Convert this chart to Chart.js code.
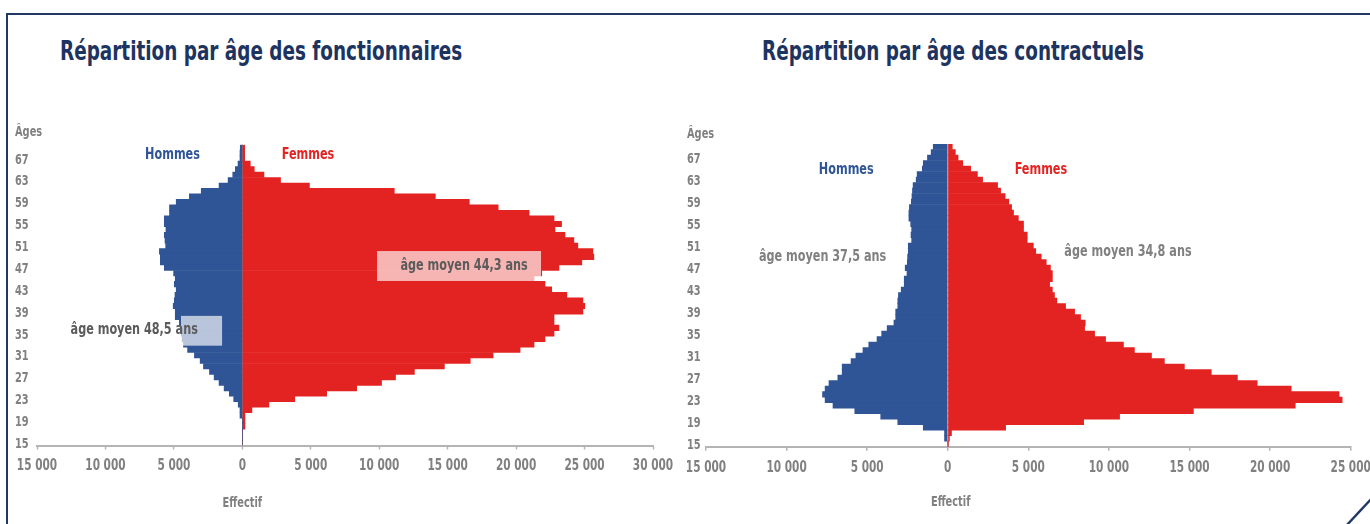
<!DOCTYPE html>
<html lang="fr">
<head>
<meta charset="utf-8">
<title>Répartition par âge</title>
<script src="https://cdn.jsdelivr.net/npm/chart.js@4.4.1/dist/chart.umd.min.js"></script>
<style>
  html, body { margin: 0; padding: 0; background: #fff; width: 1370px; height: 524px; overflow: hidden; }
  .frame { position: absolute; left: 6px; top: 13px; width: 1420px; height: 600px;
           border-top: 2.4px solid #1f3864; border-left: 2.4px solid #1f3864; }
  .title { position: absolute; top: 38px; font-weight: bold; font-size: 26px; line-height: 26px;
           font-family: "DejaVu Sans Condensed", "DejaVu Sans", sans-serif;
           color: #1d3461; white-space: nowrap; transform: scaleX(0.787); transform-origin: 0 0; }
  canvas { position: absolute; top: 0; }
  svg { position: absolute; left: 0; top: 0; }
</style>
</head>
<body>
<div class="frame"></div>
<svg width="1370" height="524"><line x1="1346" y1="526" x2="1373" y2="497" stroke="#1f3864" stroke-width="2.4"/></svg>
<div class="title" style="left:60px">Répartition par âge des fonctionnaires</div>
<div class="title" style="left:762px">Répartition par âge des contractuels</div>
<canvas id="fonctionnaires" width="690" height="524" style="left:0"></canvas>
<canvas id="contractuels" width="720" height="524" style="left:670px"></canvas>
<script>
const FONT = '"DejaVu Sans Condensed", "DejaVu Sans", sans-serif';
const NARROW = 0.78; // the original uses a condensed face, squeeze the text to match
const BLUE = '#2f5597';
const RED = '#e32322';
const GREY = '#808080';
const AXIS = '#b4b4b4';

// ages, from the top of the pyramid down
const ages = [69, 68, 67, 66, 65, 64, 63, 62, 61, 60,
              59, 58, 57, 56, 55, 54, 53, 52, 51, 50,
              49, 48, 47, 46, 45, 44, 43, 42, 41, 40,
              39, 38, 37, 36, 35, 34, 33, 32, 31, 30,
              29, 28, 27, 26, 25, 24, 23, 22, 21, 20,
              19, 18, 17, 16, 15];

// fonctionnaires
const fonctHommes = [150, 170, 170, 315, 510, 700, 1040, 1700, 3000, 3870,
                     4830, 5320, 5320, 5700, 5700, 5580, 5700, 5650, 5600, 6060,
                     5990, 5990, 5700, 5020, 4900, 4970, 4830, 4920, 4970, 5050,
                     4900, 4900, 4600, 4500, 4450, 4400, 4300, 4000, 3500, 3080,
                     2840, 2400, 2060, 1700, 1330, 950, 630, 300, 170, 170,
                     0, 0, 0, 0, 0];
const fonctFemmes = [170, 170, 170, 580, 870, 1580, 2790, 4900, 11100, 14100,
                     16580, 18690, 20950, 22770, 23320, 22840, 23570, 24220, 24510, 25610,
                     25680, 24800, 23130, 21870, 21310, 22110, 22600, 23710, 24880, 25020,
                     24880, 22770, 22770, 23130, 22770, 22110, 21310, 20290, 18320, 16650,
                     14760, 12570, 11190, 10170, 8350, 6160, 3830, 1940, 700, 190,
                     190, 190, 0, 0, 0];

// contractuels
const contrHommes = [900, 1030, 1260, 1520, 1580, 1900, 1960, 2150, 2190, 2220,
                     2260, 2380, 2410, 2410, 2300, 2240, 2280, 2240, 2450, 2450,
                     2490, 2510, 2640, 2530, 2700, 2700, 2890, 3060, 3100, 3100,
                     3230, 3230, 3340, 3760, 4100, 4390, 4900, 5260, 5700, 6000,
                     6550, 6550, 6820, 7370, 7610, 7770, 7610, 7120, 5770, 4160,
                     3100, 1520, 200, 200, 0];
const contrFemmes = [280, 470, 640, 930, 1420, 1840, 2160, 3090, 3280, 3560,
                     3790, 3960, 4080, 4380, 4700, 4700, 4930, 4930, 5310, 5460,
                     5800, 6110, 6370, 6490, 6490, 6320, 6490, 6620, 6770, 7310,
                     7870, 8240, 8530, 8490, 9110, 9790, 10900, 11580, 12640, 13440,
                     14680, 16350, 17970, 19200, 21310, 24280, 24470, 21560, 15240, 10660,
                     8430, 3590, 230, 100, 50];

const ageTicks = [15, 19, 23, 27, 31, 35, 39, 43, 47, 51, 55, 59, 63, 67];

Chart.defaults.font.family = FONT;

function fmt(v) {
    return Math.abs(v).toString().replace(/\B(?=(\d{3})+(?!\d))/g, ' ');
}

function squeezed(ctx, text, x, y, align, size, color) {
    ctx.save();
    ctx.font = 'bold ' + size + 'px ' + FONT;
    ctx.fillStyle = color;
    ctx.textAlign = align;
    ctx.textBaseline = 'middle';
    ctx.translate(x, y);
    ctx.scale(NARROW, 1);
    ctx.fillText(text, 0, 0);
    ctx.restore();
}

// tick labels, boxes and notes, placed in data units
const notesPlugin = {
    id: 'notes',
    afterDraw(chart, args, o) {
        const ctx = chart.ctx;
        const x = chart.scales.x, y = chart.scales.y;
        const yAt = age => y.getPixelForValue(ages[0] - age);
        const bottom = chart.chartArea.bottom;

        x.ticks.forEach(t => {
            squeezed(ctx, fmt(t.value), x.getPixelForValue(t.value), bottom + 21, 'center', 15, GREY);
        });
        ageTicks.forEach(a => {
            squeezed(ctx, String(a), y.left, yAt(a) + 1.5, 'left', 14, GREY);
        });

        (o.boxes || []).forEach(b => {
            const x1 = x.getPixelForValue(b.from), x2 = x.getPixelForValue(b.to);
            const y1 = yAt(b.top), y2 = yAt(b.bottom);
            ctx.fillStyle = 'rgba(255, 255, 255, 0.66)';
            ctx.fillRect(x1, y1, x2 - x1, y2 - y1);
        });
        (o.labels || []).forEach(l => {
            const px = l.x === null ? y.left : x.getPixelForValue(l.x);
            const py = l.below != null ? bottom + l.below : yAt(l.age);
            squeezed(ctx, l.text, px, py, l.align || 'center', l.size, l.color);
        });
    }
};

function pyramid(id, hommes, femmes, o) {
    return new Chart(document.getElementById(id), {
        type: 'bar',
        data: {
            labels: ages,
            datasets: [
                { label: 'Hommes', data: hommes.map(v => -v), backgroundColor: BLUE },
                { label: 'Femmes', data: femmes, backgroundColor: RED }
            ]
        },
        options: {
            indexAxis: 'y',
            responsive: false,
            animation: false,
            layout: { padding: o.padding },
            datasets: { bar: { barPercentage: 1, categoryPercentage: 1, borderWidth: 0 } },
            plugins: {
                legend: { display: false },
                tooltip: { enabled: false },
                notes: o.notes
            },
            scales: {
                x: {
                    stacked: true,
                    min: -15000,
                    max: o.xMax,
                    z: 1,
                    ticks: { stepSize: 5000, display: false },
                    grid: {
                        color: c => (c.tick && c.tick.value === 0) ? o.zeroColor : 'rgba(0,0,0,0)',
                        lineWidth: o.zeroWidth,
                        tickColor: AXIS,
                        tickLength: 4,
                        tickWidth: 1.5
                    },
                    border: { color: AXIS, width: 2 },
                    afterFit: s => { s.height = o.axisHeight; }
                },
                y: {
                    stacked: true,
                    grid: { display: false },
                    border: { display: false },
                    ticks: { display: false },
                    afterFit: s => { s.width = o.labelWidth; }
                }
            }
        },
        plugins: [notesPlugin]
    });
}

pyramid('fonctionnaires', fonctHommes, fonctFemmes, {
    xMax: 30000,
    padding: { left: 15, right: 37, top: 144.7, bottom: 0 },
    labelWidth: 22,
    axisHeight: 78.5,
    zeroColor: '#8c8c8c',
    zeroWidth: 1,
    notes: {
        boxes: [
            { from: -4480, to: -1480, top: 38.2, bottom: 32.75 },
            { from: 9840, to: 21820, top: 50.06, bottom: 44.58 }
        ],
        labels: [
            { text: 'Âges', x: null, age: 71.8, align: 'left', size: 14, color: GREY },
            { text: 'Hommes', x: -5100, age: 67.6, size: 16, color: BLUE },
            { text: 'Femmes', x: 4800, age: 67.6, size: 16, color: RED },
            { text: 'âge moyen 48,5 ans', x: -7900, age: 35.7, size: 16, color: '#5b5b5b' },
            { text: 'âge moyen 44,3 ans', x: 16200, age: 47.3, size: 16, color: '#5b5b5b' },
            { text: 'Effectif', x: 0, below: 57.5, size: 14, color: GREY }
        ]
    }
});

pyramid('contractuels', contrHommes, contrFemmes, {
    xMax: 25000,
    padding: { left: 17, right: 39.3, top: 144, bottom: 0 },
    labelWidth: 19,
    axisHeight: 77.3,
    zeroColor: '#c4ccd6',
    zeroWidth: 1.5,
    notes: {
        labels: [
            { text: 'Âges', x: null, age: 71.2, align: 'left', size: 14, color: GREY },
            { text: 'Hommes', x: -6300, age: 64.8, size: 16, color: BLUE },
            { text: 'Femmes', x: 5780, age: 64.8, size: 16, color: RED },
            { text: 'âge moyen 37,5 ans', x: -7770, age: 49.0, size: 16, color: GREY },
            { text: 'âge moyen 34,8 ans', x: 11180, age: 49.9, size: 16, color: GREY },
            { text: 'Effectif', x: 180, below: 55.5, size: 14, color: GREY }
        ]
    }
});
</script>
</body>
</html>
